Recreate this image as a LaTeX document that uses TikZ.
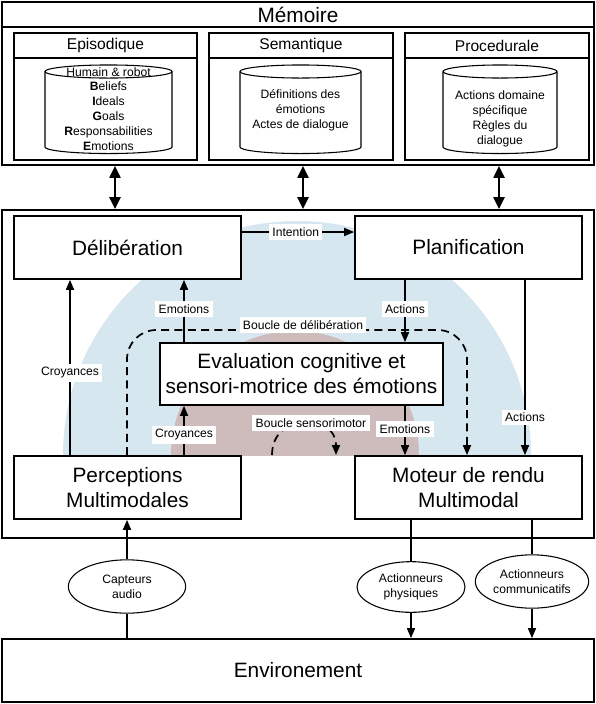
\documentclass[tikz,border=0pt]{standalone}
\usepackage{fontspec}
\setmainfont{Liberation Sans}
\usetikzlibrary{arrows.meta}
\usetikzlibrary{shapes.geometric}

\definecolor{bleu}{RGB}{214,231,240}
\definecolor{brun}{RGB}{205,188,187}

\tikzset{
  grand/.style={font=\fontsize{15.6}{18.8}\selectfont},
  moyen/.style={font=\fontsize{11.7}{14}\selectfont},
  petit/.style={font=\fontsize{9.1}{11.2}\selectfont},
  bloc/.style={draw, line width=1.3pt, fill=white, align=center, grand},
  etiq/.style={fill=white, inner sep=2.5pt, petit},
  fleche/.style={line width=1.2pt, -{Triangle[length=7.5pt,width=6pt]}},
  double/.style={line width=2.2pt, {Triangle[length=9pt,width=8pt]}-{Triangle[length=9pt,width=8pt]}},
  boucle/.style={line width=1.3pt, dash pattern=on 6pt off 4pt},
  capteur/.style={draw, ellipse, line width=0.8pt, align=center, inner sep=0pt, petit},
}

\begin{document}
\begin{tikzpicture}[x=0.75pt, y=-0.75pt]
			\useasboundingbox (0,0) rectangle (596,704);
			\foreach \x in {70,115,127,184,303,405,411,467,499,525,532}
				\coordinate (x\x) at (\x,0);
			\node[draw, line width=1.3pt, minimum width=444pt, minimum height=122.25pt] (memoire) at (298,83.5) {};
			\draw [line width=1.3pt] (2,27) -- (594,27);
			\node [grand] (titre) at (298,14.5) {Mémoire};
			\foreach \xa/\xb/\nom in {14/197/Episodique, 209/393/Semantique, 405/589/Procedurale} {
				\draw [line width=1.3pt] (\xa,33) rectangle (\xb,160);
				\draw [line width=1.3pt] (\xa,58) -- (\xb,58);
				\node [moyen] (\nom) at ({(\xa+\xb)/2},45.5) {\nom};
			}
			\foreach \cx/\rx in {108.5/63.5, 300.5/60.5, 500/57} {
				\draw [line width=0.8pt, fill=white] (\cx-\rx,71.5) -- (\cx-\rx,147)
					arc[start angle=180, end angle=360, x radius=\rx*0.75pt, y radius=4.9pt] -- (\cx+\rx,71.5);
				\draw [line width=0.8pt] (\cx,71.5) ellipse[x radius=\rx*0.75pt, y radius=4.9pt];
			}
			\node [petit, align=center] (episo) at (108.5,109) {Humain \& robot\\\textbf{B}eliefs\\\textbf{I}deals\\\textbf{G}oals\\\textbf{R}esponsabilities\\\textbf{E}motions};
			\node [petit, align=center] (seman) at (300.5,110) {Définitions des\\émotions\\Actes de dialogue};
			\node [petit, align=center] (proce) at (500,118.5) {Actions domaine\\spécifique\\Règles du\\dialogue};
			\node[draw, line width=1.3pt, minimum width=444pt, minimum height=246pt] (agent) at (298,374) {};
			\begin{scope}
				\clip (2,210) rectangle (594,455);
				\fill [bleu] (297,455) circle[radius=234];
				\fill [brun] (295,455) circle[radius=124];
			\end{scope}
			\foreach \x in {115,303,499}
				\draw [double] (memoire.south -| x\x) -- (agent.north -| x\x);
			\node [bloc, minimum width=170.25pt, minimum height=47.25pt] (delib) at (127.5,247.5) {Délibération};
			\node [bloc, minimum width=170.25pt, minimum height=47.25pt] (plan) at (468.5,247.5) {Planification};
			\node [bloc, minimum width=212.25pt, minimum height=46.5pt] (eval) at (301.5,374) {Evaluation cognitive et\\sensori-motrice des émotions};
			\node [bloc, minimum width=170.25pt, minimum height=47.25pt] (percep) at (127.5,487.5) {Perceptions\\Multimodales};
			\node [bloc, minimum width=170.25pt, minimum height=47.25pt] (moteur) at (468.5,487.5) {Moteur de rendu\\Multimodal};
			\node [bloc, minimum width=444pt, minimum height=47.25pt] (env) at (298,670.5) {Environement};
			\coordinate (y232) at (0,232);
			\draw [fleche] (delib.east |- y232) -- node[etiq, pos=0.48] {Intention} (plan.west |- y232);
			\draw [fleche] (percep.north -| x70) -- node[etiq, pos=0.47] {Croyances} (delib.south -| x70);
			\draw [fleche] (eval.north -| x184) -- node[etiq, pos=0.53] {Emotions} (delib.south -| x184);
			\draw [fleche] (plan.south -| x405) -- node[etiq, pos=0.47] {Actions} (eval.north -| x405);
			\draw [fleche] (percep.north -| x184) -- node[etiq, pos=0.41] {Croyances} (eval.south -| x184);
			\draw [fleche] (eval.south -| x405) -- node[etiq, pos=0.47] {Emotions} (moteur.north -| x405);
			\draw [fleche] (plan.south -| x525) -- node[etiq, pos=0.785] {Actions} (moteur.north -| x525);
			\draw [boucle, rounded corners=22pt, -{Triangle[length=7.5pt,width=6pt]}] (percep.north -| x127) -- (127,330) -- (467,330) -- (moteur.north -| x467);
			\node [etiq] (bdelib) at (303,325) {Boucle de délibération};
			\coordinate (smA) at (272,455);
			\coordinate (smB) at (336,455);
			\draw [boucle, -{Triangle[length=7.5pt,width=6pt]}] (smA) .. controls (272,412) and (336,412) .. (smB);
			\node [etiq] (bsenso) at (311,423) {Boucle sensorimotor};
			\node [capteur, minimum width=88pt, minimum height=40pt] (audio) at (127,586.5) {Capteurs\\audio};
			\node [capteur, minimum width=81pt, minimum height=38pt] (physique) at (411,587) {Actionneurs\\physiques};
			\node [capteur, minimum width=85pt, minimum height=40pt] (commu) at (532,581.5) {Actionneurs\\communicatifs};
			\draw [line width=1.2pt] (env.north -| x127) -- (audio.south);
			\draw [fleche] (audio.north) -- (percep.south -| x127);
			\draw [line width=1.2pt] (moteur.south -| x411) -- (physique.north);
			\draw [fleche] (physique.south) -- (env.north -| x411);
			\draw [line width=1.2pt] (moteur.south -| x532) -- (commu.north);
			\draw [fleche] (commu.south) -- (env.north -| x532);
\end{tikzpicture}
\end{document}
